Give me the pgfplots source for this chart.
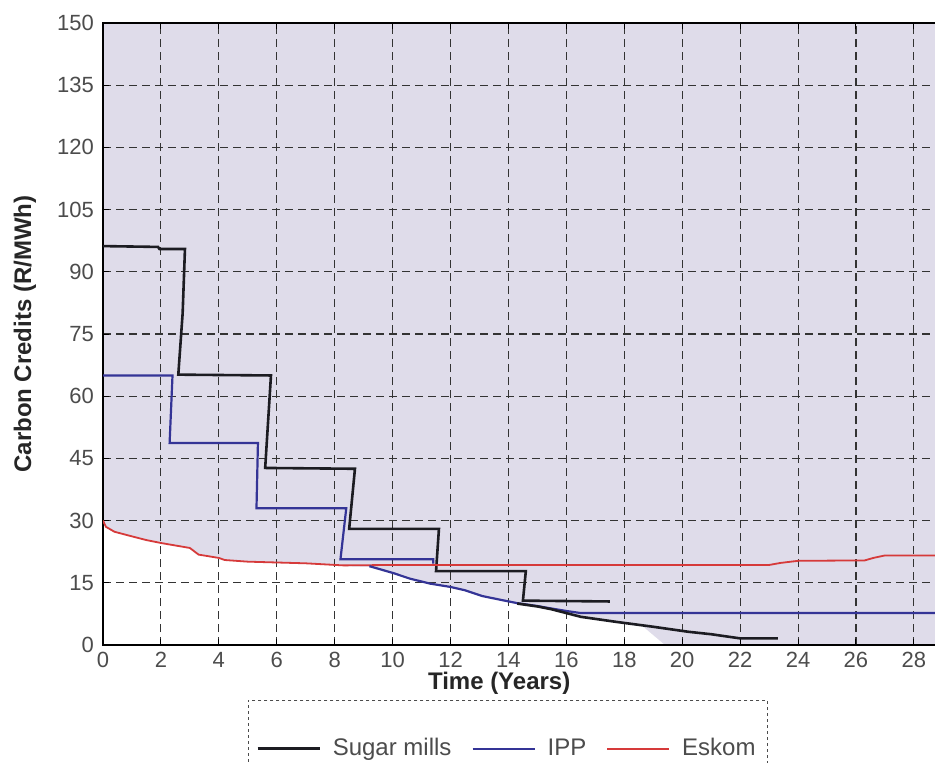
\documentclass[border=0pt]{standalone}
\usepackage{fontspec}
\setmainfont{Liberation Sans}
\usepackage{pgfplots}
\pgfplotsset{compat=1.18}
\definecolor{bgl}{RGB}{223,220,234}
\definecolor{ipp}{RGB}{52,52,150}
\definecolor{esk}{RGB}{214,58,58}
\definecolor{smc}{RGB}{28,28,34}
\begin{document}
\begin{tikzpicture}
\begin{axis}[
  set layers=standard,
  scale only axis, width=434.4pt, height=311pt,
  xmin=0, xmax=30, ymin=0, ymax=150,
  xtick={0,2,...,28}, ytick={0,15,...,150},
  axis background/.style={fill=bgl},
  grid=major,
  major grid style={black!80, line width=0.55pt, dash pattern=on 4pt off 2.5pt},
  tick align=inside, major tick length=3pt,
  tick style={black, line width=0.5pt},
  axis line style={black, line width=0.7pt},
  ticklabel style={font=\fontsize{11}{13}\selectfont, text=black!70},
  yticklabel style={xshift=-1pt},
  /pgf/number format/assume math mode=true,
  xlabel={Time (Years)}, ylabel={Carbon Credits (R/MWh)},
  label style={font=\bfseries\fontsize{12}{14}\selectfont, text=black!85},
  xlabel style={at={(rel axis cs:0.456,-0.0611)}, anchor=center},
  ylabel style={at={(rel axis cs:-0.0898,0.5)}, anchor=center},
  legend columns=3,
  legend image code/.code={\draw[solid,#1] (0pt,0pt) -- (31pt,0pt);},
  legend style={at={(rel axis cs:0.466,0)}, anchor=north, yshift=-27.5pt,
    draw=black!70, dash pattern=on 1.5pt off 1.5pt, fill=white,
    inner xsep=4pt, inner ysep=17pt,
    font=\fontsize{12}{14}\selectfont, text=black!70,
    /tikz/every odd column/.append style={column sep=4pt},
    /tikz/every even column/.append style={column sep=8pt}},
]
% white area below the lower curves
\addplot[fill=white, draw=none, forget plot, on layer=axis background] coordinates {
 (0,0) (0,30) (0.1,28.5) (0.4,27.3) (1,26.2) (1.5,25.3) (2,24.6) (2.5,24) (3,23.4)
 (3.3,21.8) (4,21) (4.2,20.5) (5,20.1) (7,19.7) (8.3,19) (9.2,18.8)
 (9.6,18.2) (10,17.4) (10.6,16) (11.3,14.8) (12,14) (12.5,13.2) (13.1,11.8)
 (13.8,10.8) (14.3,10.1) (15,9.4) (15.5,8.6) (16.5,6.8) (17.7,5.6) (18.6,4.7) (19.4,0)
};
% Sugar mills steps
\addplot[smc, line width=1.3pt] coordinates {
 (0,96.2) (1.9,96) (1.95,95.5) (2.83,95.5) (2.75,80) (2.6,65.2) (5.8,65)
 (5.6,42.7) (8.7,42.5) (8.5,28) (11.6,28) (11.5,17.8) (14.6,17.8) (14.5,10.7) (17.5,10.5)
};
\addlegendentry{Sugar mills}
% IPP steps
\addplot[ipp, line width=1.1pt] coordinates {
 (0,65) (2.4,65) (2.3,48.7) (5.35,48.7) (5.3,33) (8.4,33) (8.2,20.7) (11.4,20.7) (11.4,19.6)
};
\addlegendentry{IPP}
% Eskom
\addplot[esk, line width=0.9pt] coordinates {
 (0,30) (0.1,28.5) (0.4,27.3) (1,26.2) (1.5,25.3) (2,24.6) (2.5,24) (3,23.4)
 (3.3,21.8) (4,21) (4.2,20.5) (5,20.1) (7,19.7) (8.3,19.2) (10,19.3) (23,19.3)
 (23.4,19.8) (24,20.3) (26.3,20.4) (26.6,21) (27,21.6) (30,21.6)
};
\addlegendentry{Eskom}
% IPP descending
\addplot[ipp, line width=1.1pt, forget plot] coordinates {
 (9.2,19) (9.6,18.2) (10,17.4) (10.6,16) (11.3,14.8) (12,14) (12.5,13.2) (13.1,11.8)
 (13.8,10.8) (14.3,10.1) (15,9.4) (15.4,8.9) (16,8.2) (16.5,7.7) (30,7.7)
};
% Sugar mills descending
\addplot[smc, line width=1.3pt, forget plot] coordinates {
 (14.3,10.0) (15,9.3) (15.5,8.6) (16.5,6.8) (17.7,5.6) (19,4.4) (20.2,3.2)
 (21,2.6) (22,1.6) (23.3,1.6)
};
\end{axis}
\pgfresetboundingbox
\useasboundingbox (-51.5pt,-58.5pt) rectangle (416pt,322.5pt);
\end{tikzpicture}
\end{document}
